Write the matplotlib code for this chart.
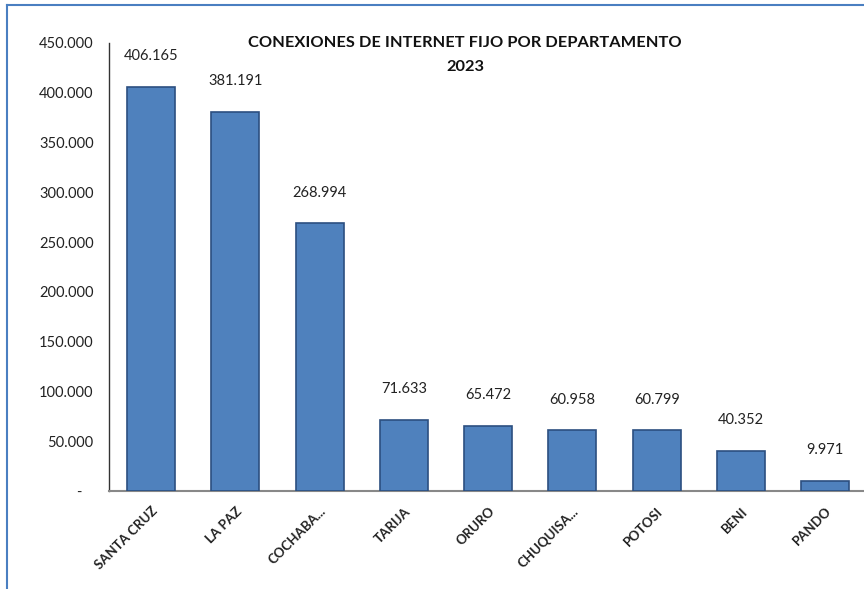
import matplotlib
matplotlib.use("Agg")
import matplotlib.pyplot as plt
from matplotlib.ticker import FuncFormatter

departamentos = ["SANTA CRUZ", "LA PAZ", "COCHABA...", "TARIJA", "ORURO",
                 "CHUQUISA...", "POTOSI", "BENI", "PANDO"]
conexiones = [406165, 381191, 268994, 71633, 65472, 60958, 60799, 40352, 9971]
y_ticks = [0, 50000, 100000, 150000, 200000, 250000, 300000, 350000, 400000, 450000]
titulo = "CONEXIONES DE INTERNET FIJO POR DEPARTAMENTO\n2023"

plt.rcParams['font.family'] = ['Lato', 'DejaVu Sans']

W, H = 864, 589
fig = plt.figure(figsize=(W / 100, H / 100), dpi=100)

# outer frame (top and left blue lines)
fig.add_artist(plt.Line2D([7 / W, 1], [1 - 5 / H, 1 - 5 / H], color="#4a7fc1",
                          lw=1.5, transform=fig.transFigure))
fig.add_artist(plt.Line2D([7 / W, 7 / W], [0, 1 - 5 / H], color="#4a7fc1",
                          lw=1.5, transform=fig.transFigure))

left_px, right_px, top_px, bot_px = 109, 864, 43, 491
ax = fig.add_axes([left_px / W, 1 - bot_px / H, (right_px - left_px) / W,
                   (bot_px - top_px) / H])

x = list(range(len(departamentos)))
ax.bar(x, conexiones, width=0.57, color="#4f81bd", edgecolor="#2c4f80",
       linewidth=1.2, zorder=3)

for xi, v in zip(x, conexiones):
    ax.annotate(f"{v:,}".replace(",", "."), (xi, v), xytext=(0, 17),
                textcoords="offset points", ha="center", va="bottom",
                fontsize=10.5, color="#222222")

ax.set_ylim(0, 450000)
ax.set_xlim(-0.5, 8.46)
ax.set_yticks(y_ticks)
ax.yaxis.set_major_formatter(FuncFormatter(
    lambda v, p: "-   " if v == 0 else f"{int(v):,}".replace(",", ".")))
ax.set_xticks(x)
ax.set_xticklabels(departamentos, rotation=45, ha="right",
                   rotation_mode="anchor", fontsize=9.5, fontweight="bold",
                   color="#222222")
ax.tick_params(axis="y", length=0, labelsize=10.5, pad=11, labelcolor="#222222")
ax.tick_params(axis="x", length=0, pad=10)

for s in ["top", "right"]:
    ax.spines[s].set_visible(False)
ax.spines["left"].set_color("#333333")
ax.spines["left"].set_linewidth(1.0)
ax.spines["bottom"].set_color("#888888")
ax.spines["bottom"].set_linewidth(1.5)

fig.text(465 / W, 1 - 55 / H, titulo, ha="center", va="center",
         fontsize=11.8, fontweight="bold", linespacing=1.95, color="#111111")

fig.savefig("out.png", dpi=100)
